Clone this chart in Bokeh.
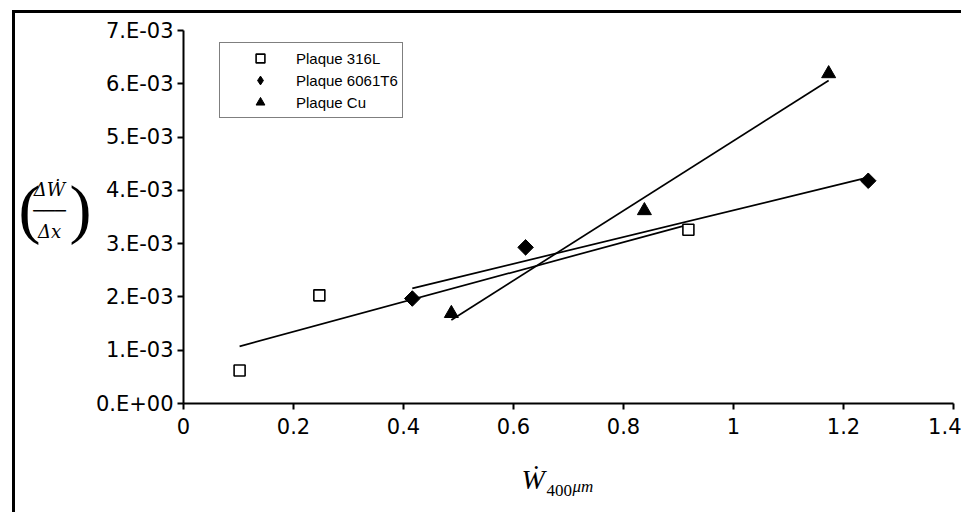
import numpy as np
from bokeh.plotting import figure
from bokeh.models import Range1d, Label, FixedTicker, LegendItem, Legend
from bokeh.embed import file_html
from bokeh.resources import INLINE

# Measured points for each plate
x_316l = [0.102, 0.247, 0.918]
y_316l = [0.00062, 0.00203, 0.00326]
x_6061 = [0.416, 0.622, 1.245]
y_6061 = [0.00197, 0.00293, 0.00418]
x_cu = [0.487, 0.838, 1.173]
y_cu = [0.00169, 0.00362, 0.00619]

series_names = ["Plaque 316L", "Plaque 6061T6", "Plaque Cu"]

x_ticks = [0, 0.2, 0.4, 0.6, 0.8, 1.0, 1.2, 1.4]
x_tick_labels = ["0", "0.2", "0.4", "0.6", "0.8", "1", "1.2", "1.4"]
y_ticks = [0.0, 0.001, 0.002, 0.003, 0.004, 0.005, 0.006, 0.007]
y_tick_labels = ["0.E+00", "1.E-03", "2.E-03", "3.E-03", "4.E-03", "5.E-03", "6.E-03", "7.E-03"]

TICK_FONT = "DejaVu Sans"
SERIF = "Liberation Serif"

p = figure(width=949, height=502, output_backend="svg", toolbar_location=None,
           x_range=Range1d(0, 1.4), y_range=Range1d(0, 0.007),
           min_border_left=167, min_border_right=11, min_border_top=17,
           min_border_bottom=112)
p.margin = (10, 0, 0, 12)
p.styles = {"border-left": "3px solid black", "border-top": "3px solid black"}
p.outline_line_color = None
p.grid.visible = False

for ax in (p.xaxis[0], p.yaxis[0]):
    ax.axis_line_width = 2
    ax.major_tick_line_width = 2
    ax.major_tick_in = 0
    ax.major_tick_out = 6
    ax.minor_tick_line_color = None
    ax.major_label_text_font = TICK_FONT
    ax.major_label_text_font_size = "21px"
    ax.major_label_text_color = "black"

p.xaxis.ticker = FixedTicker(ticks=x_ticks)
p.xaxis.major_label_overrides = {t: s for t, s in zip(x_ticks, x_tick_labels)}
p.xaxis.major_label_standoff = 8
p.yaxis.ticker = FixedTicker(ticks=y_ticks)
p.yaxis.major_label_overrides = {t: s for t, s in zip(y_ticks, y_tick_labels)}
p.yaxis.major_label_standoff = 4

# Linear trend lines over each data span
for xs, ys in ((x_316l, y_316l), (x_6061, y_6061), (x_cu, y_cu)):
    k, b = np.polyfit(xs, ys, 1)
    xe = np.array([min(xs), max(xs)])
    p.line(xe, k * xe + b, line_color="black", line_width=1.7)

r_316l = p.scatter(x_316l, y_316l, marker="square", size=11, fill_color="white",
                   line_color="black", line_width=1.6)
# diamond series: narrow diamond (used as legend key) under a rotated square
r_6061 = p.scatter(x_6061, y_6061, marker="diamond", size=14, fill_color="black",
                   line_color="black")
p.scatter(x_6061, y_6061, marker="square", angle=np.pi / 4, size=11,
          fill_color="black", line_color="black")
r_cu = p.scatter(x_cu, y_cu, marker="triangle", size=14, fill_color="black",
                 line_color="black")

legend = Legend(items=[LegendItem(label=series_names[0], renderers=[r_316l]),
                       LegendItem(label=series_names[1], renderers=[r_6061]),
                       LegendItem(label=series_names[2], renderers=[r_cu])],
                location=(36, 285), border_line_color="black", border_line_width=1.5,
                padding=4, spacing=0, margin=0, glyph_width=72, glyph_height=22,
                label_height=22, label_standoff=0, label_text_font="Liberation Sans",
                label_text_font_size="15px", label_text_color="black")
p.add_layout(legend)


def side_label(side, text, x, y, size, font=SERIF, style="normal", align="left",
               baseline="middle", line_height=1.2):
    p.add_layout(Label(x=x, y=y, x_units="screen", y_units="screen", text=text,
                       text_font=font, text_font_size=size, text_font_style=style,
                       text_align=align, text_baseline=baseline, text_color="black",
                       text_line_height=line_height), side)


# y quantity: (dW/dx) as a fraction in parentheses, left of the tick labels
side_label("left", ")", -1, 195, "66px")
side_label("left", "\u0394\u1E86\n\u2500\u2500\u2500\n\u0394x", 12, 193, "18px",
           font="DejaVu Serif", style="italic", align="center", line_height=1.0)
side_label("left", "(", 3, 195, "66px")

# x quantity: W-dot with subscript 400 um, below the tick labels
side_label("below", "\u1E86", 338, -27, "28px", style="italic", baseline="bottom")
side_label("below", "400", 363, -17, "17px", baseline="bottom")
side_label("below", "\u03BCm", 389, 2, "17px", style="italic", baseline="bottom")

open("out.html", "w").write(file_html(p, INLINE))
